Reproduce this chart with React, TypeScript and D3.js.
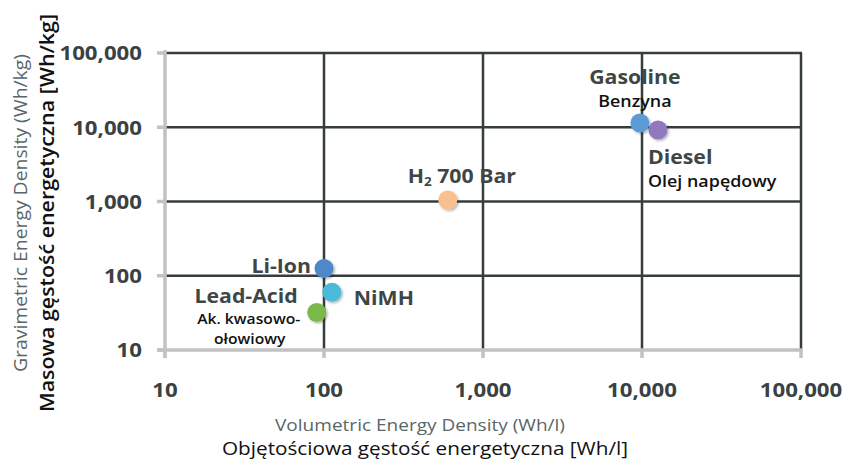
import { useEffect, useRef } from 'react';
import * as d3 from 'd3';

const W = 843;
const H = 460;

// energy storage technologies: [volumetric Wh/l, gravimetric Wh/kg]
const names = ['Li-Ion', 'NiMH', 'Lead-Acid', 'Gasoline', 'Diesel', 'H2 700 Bar'];
const volumetric = [100, 112, 90, 9700, 12600, 600];
const gravimetric = [125, 60, 32, 11400, 9200, 1050];
const colors = ['#4f88c9', '#4cb9d8', '#7cb84a', '#5b9bd5', '#9179c0', '#f8c08e'];

const ticks = [10, 100, 1000, 10000, 100000];
const tickLabels = ['10', '100', '1,000', '10,000', '100,000'];

const FONT = '"Open Sans", Lato, sans-serif';
const SX = 1.12; // the original lettering is a bit wider than Open Sans

export default function App() {
  const ref = useRef<SVGSVGElement>(null);

  useEffect(() => {
    const svg = d3.select(ref.current);
    svg.selectAll('*').remove();

    const left = 165, right = 801, top = 53, bottom = 350;
    const x = d3.scaleLog().domain([10, 100000]).range([left, right]);
    const y = d3.scaleLog().domain([10, 100000]).range([bottom, top]);

    const defs = svg.append('defs');
    const f = defs.append('filter').attr('id', 'sh').attr('x', '-50%').attr('y', '-50%').attr('width', '200%').attr('height', '200%');
    f.append('feDropShadow').attr('dx', 1.5).attr('dy', 1.5).attr('stdDeviation', 1.2).attr('flood-color', '#000').attr('flood-opacity', 0.3);

    // text helper, slightly stretched horizontally
    const txt = (
      t: string, tx: number, ty: number,
      o: { size: number; weight?: number | string; fill: string; anchor?: string; sx?: number }
    ) =>
      svg.append('text')
        .attr('transform', `translate(${tx},${ty}) scale(${o.sx ?? SX},1)`)
        .attr('text-anchor', o.anchor ?? 'middle').attr('dominant-baseline', 'central')
        .attr('font-family', FONT).attr('font-size', o.size)
        .attr('font-weight', o.weight ?? 'normal').attr('fill', o.fill)
        .text(t);

    const grid = svg.append('g');
    // dark gridlines
    grid.selectAll('line.v')
      .data(ticks.slice(1))
      .join('line')
      .attr('x1', (d) => x(d)).attr('x2', (d) => x(d))
      .attr('y1', top).attr('y2', bottom)
      .attr('stroke', '#363d3e').attr('stroke-width', 2.5);
    grid.selectAll('line.h')
      .data(ticks.slice(1))
      .join('line')
      .attr('x1', left).attr('x2', right + 1)
      .attr('y1', (d) => y(d)).attr('y2', (d) => y(d))
      .attr('stroke', '#363d3e').attr('stroke-width', 2.5);

    // light axes with outward ticks
    const axis = svg.append('g').attr('stroke', '#c2c2c2').attr('stroke-width', 3.5);
    axis.append('line').attr('x1', left).attr('x2', left).attr('y1', top - 3).attr('y2', bottom + 8);
    axis.append('line').attr('x1', left - 8).attr('x2', right + 2).attr('y1', bottom).attr('y2', bottom);
    axis.selectAll('line.yt').data(ticks).join('line')
      .attr('x1', left - 8).attr('x2', left).attr('y1', (d) => y(d)).attr('y2', (d) => y(d));
    axis.selectAll('line.xt').data(ticks).join('line')
      .attr('x1', (d) => x(d)).attr('x2', (d) => x(d)).attr('y1', bottom).attr('y2', bottom + 8);

    // tick labels
    ticks.forEach((d, i) => {
      txt(tickLabels[i], 142, y(d), { size: 19, weight: 'bold', fill: '#3a4142', anchor: 'end', sx: 1.17 });
      txt(tickLabels[i], x(d), 390, { size: 19, weight: 'bold', fill: '#3a4142', sx: 1.17 });
    });

    // axis titles
    txt('Volumetric Energy Density (Wh/l)', 420, 424, { size: 17, weight: 500, fill: '#5a6667' });
    txt('Objętościowa gęstość energetyczna [Wh/l]', 425, 448, { size: 18.5, weight: 500, fill: '#111' });
    svg.append('text').attr('transform', 'translate(20,213) rotate(-90)')
      .attr('text-anchor', 'middle').attr('dominant-baseline', 'central')
      .attr('font-family', FONT).attr('font-size', 17.5).attr('font-weight', 500).attr('fill', '#5a6667')
      .attr('textLength', 318).attr('lengthAdjust', 'spacingAndGlyphs')
      .text('Gravimetric Energy Density (Wh/kg)');
    svg.append('text').attr('transform', 'translate(46,213) rotate(-90)')
      .attr('text-anchor', 'middle').attr('dominant-baseline', 'central')
      .attr('font-family', FONT).attr('font-size', 19.5).attr('font-weight', 600).attr('fill', '#111')
      .attr('textLength', 398).attr('lengthAdjust', 'spacingAndGlyphs')
      .text('Masowa gęstość energetyczna [Wh/kg]');

    // points
    const pts = names.map((n, i) => ({ name: n, vx: volumetric[i], vy: gravimetric[i], c: colors[i] }));
    svg.append('g').selectAll('circle').data(pts).join('circle')
      .attr('cx', (d) => x(d.vx)).attr('cy', (d) => y(d.vy))
      .attr('r', 9.5).attr('fill', (d) => d.c)
      .attr('filter', 'url(#sh)');

    // annotations, offsets relative to each point
    const big = (t: string, px: number, py: number, dx: number, dy: number, anchor: string) =>
      txt(t, px + dx, py + dy, { size: 19, weight: 'bold', fill: '#3f4646', anchor });
    const small = (t: string, px: number, py: number, dx: number, dy: number, anchor: string, size = 16) =>
      txt(t, px + dx, py + dy, { size, weight: 600, fill: '#111', anchor });

    const P = (i: number) => [x(volumetric[i]), y(gravimetric[i])];

    let [px, py] = P(0);
    big('Li-Ion', px, py, -13, -3, 'end');
    [px, py] = P(1);
    big('NiMH', px, py, 22, 5, 'start');
    [px, py] = P(2);
    big('Lead-Acid', px, py, -19, -17, 'end');
    small('Ak. kwasowo-', px, py, -68, 6, 'middle', 14);
    small('ołowiowy', px, py, -67, 26, 'middle', 14);
    [px, py] = P(3);
    big('Gasoline', px, py, -5, -47, 'middle');
    small('Benzyna', px, py, -5, -22, 'middle');
    [px, py] = P(4);
    big('Diesel', px, py, -10, 27, 'start');
    small('Olej napędowy', px, py, -10, 51, 'start');
    [px, py] = P(5);
    const h2 = svg.append('text')
      .attr('transform', `translate(${px - 40},${py - 24}) scale(${SX},1)`)
      .attr('dominant-baseline', 'central')
      .attr('font-family', FONT).attr('font-weight', 'bold').attr('font-size', 19)
      .attr('fill', '#3f4646');
    h2.append('tspan').text('H');
    h2.append('tspan').attr('font-size', 12).attr('dy', 5).text('2');
    h2.append('tspan').attr('dy', -5).text(' 700 Bar');
  }, []);

  return (
    <svg
      ref={ref}
      width={W}
      height={H}
      style={{ position: 'absolute', left: 0, top: 0, background: '#fff' }}
    />
  );
}
